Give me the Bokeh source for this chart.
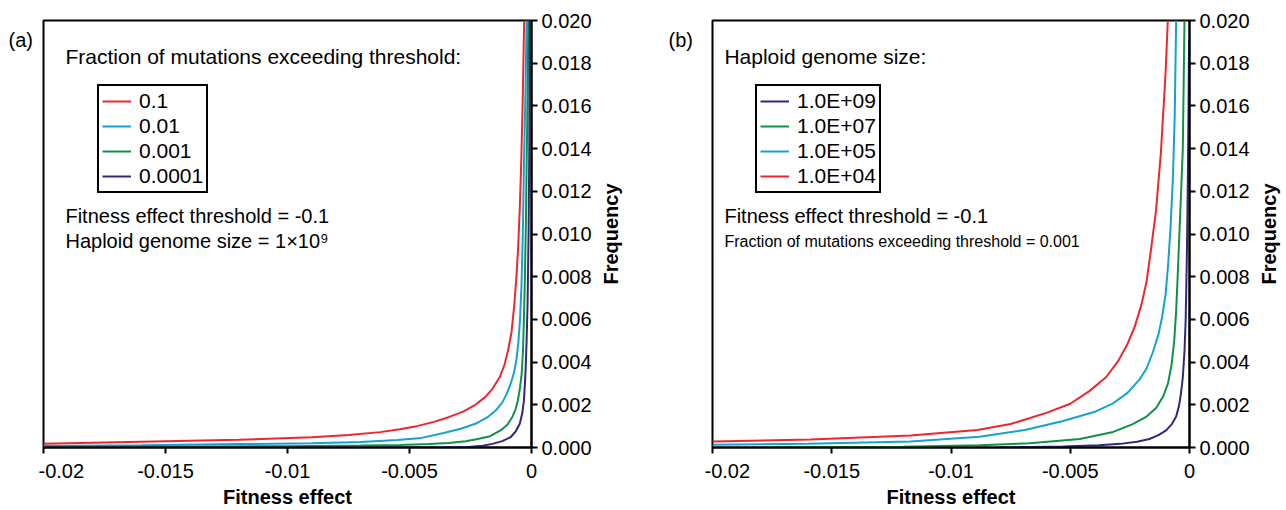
import math
from bokeh.plotting import figure
from bokeh.models import (Range1d, FixedTicker, CustomJSTickFormatter, Label,
                          Legend, LegendItem)
from bokeh.layouts import row
from bokeh.embed import file_html
from bokeh.resources import INLINE

FONT = "Liberation Sans"
H = 510
TOP = 20
BOTTOM = 63
FRAME_H = H - TOP - BOTTOM

# ---------------- data ----------------
x_ticks = [-0.02, -0.015, -0.01, -0.005, 0.0]
y_ticks = [0.000, 0.002, 0.004, 0.006, 0.008, 0.010, 0.012, 0.014, 0.016, 0.018, 0.020]

# Panel (a): fraction of mutations exceeding threshold
a_labels = ["0.1", "0.01", "0.001", "0.0001"]
a_x_1 = [-0.020, -0.016, -0.012, -0.0090, -0.0075, -0.0062, -0.0054, -0.0047, -0.0040,
         -0.0034, -0.0028, -0.0023, -0.0019, -0.0016, -0.0013, -0.0011, -0.00095,
         -0.00082, -0.00072, -0.00063, -0.00055, -0.00048, -0.00042, -0.00036, -0.00030]
a_y_1 = [0.00018, 0.00027, 0.00036, 0.00048, 0.00058, 0.00072, 0.00085, 0.00100, 0.00120,
         0.00142, 0.00168, 0.00200, 0.00236, 0.00275, 0.0033, 0.0039, 0.0046,
         0.0054, 0.0065, 0.0078, 0.0093, 0.0112, 0.0134, 0.0163, 0.0200]
a_x_2 = [-0.020, -0.016, -0.012, -0.0090, -0.0070, -0.0055, -0.0045, -0.0036, -0.0029,
         -0.0023, -0.0018, -0.00147, -0.0012, -0.00102, -0.00085, -0.00072, -0.00062,
         -0.00054, -0.00047, -0.00041, -0.00036, -0.00031, -0.00025, -0.00020]
a_y_2 = [0.00007, 0.00011, 0.00016, 0.00020, 0.00026, 0.00035, 0.00045, 0.00068, 0.00088,
         0.00111, 0.00142, 0.00173, 0.0021, 0.0025, 0.0030, 0.0035, 0.0041,
         0.0049, 0.0060, 0.0076, 0.0098, 0.0132, 0.0165, 0.0200]
a_x_3 = [-0.020, -0.015, -0.010, -0.0070, -0.0054, -0.0042, -0.0034, -0.0027, -0.0022,
         -0.0017, -0.00127, -0.0010, -0.00079, -0.00065, -0.00056, -0.00047, -0.00040,
         -0.00035, -0.00031, -0.00027, -0.00023, -0.00020, -0.00016, -0.00013]
a_y_3 = [0.00003, 0.00004, 0.00006, 0.00009, 0.00012, 0.00016, 0.00021, 0.00029, 0.0004,
         0.00053, 0.0008, 0.00105, 0.00142, 0.0018, 0.0022, 0.0028, 0.0035,
         0.0045, 0.0060, 0.0080, 0.0105, 0.0132, 0.0165, 0.0200]
a_x_4 = [-0.020, -0.005, -0.0035, -0.0026, -0.0020, -0.0016, -0.0012, -0.00086, -0.00065,
         -0.00048, -0.00038, -0.00031, -0.00025, -0.00020, -0.00016, -0.00012, -0.00009,
         -0.00007]
a_y_4 = [0.0, 0.0, 0.000005, 0.00002, 0.00008, 0.00017, 0.0003, 0.00048, 0.00075,
         0.00111, 0.0016, 0.0022, 0.0034, 0.0050, 0.0068, 0.0100, 0.0140,
         0.0200]

# Panel (b): haploid genome size
b_labels = ["1.0E+09", "1.0E+07", "1.0E+05", "1.0E+04"]
b_x_9 = [-0.008, -0.0053, -0.0038, -0.0029, -0.0022, -0.00168, -0.0013, -0.00098,
         -0.00075, -0.00056, -0.00044, -0.00035, -0.00028, -0.00021, -0.00016, -0.00011,
         -0.00007, -0.00004, -0.00002]
b_y_9 = [0.0, 0.00005, 0.0001, 0.00017, 0.00027, 0.0004, 0.00058, 0.0008,
         0.00108, 0.00145, 0.00195, 0.0026, 0.0033, 0.0045, 0.0060, 0.0090,
         0.0125, 0.0160, 0.0191]
b_x_7 = [-0.0176, -0.012, -0.0088, -0.0067, -0.0046, -0.0032, -0.0024, -0.0018,
         -0.0014, -0.0011, -0.0009, -0.00075, -0.00064, -0.00056, -0.0005, -0.00045,
         -0.00038, -0.00028, -0.00021]
b_y_7 = [0.0, 0.00004, 0.0001, 0.0002, 0.0004, 0.00073, 0.00108, 0.00145,
         0.00185, 0.0024, 0.0030, 0.0039, 0.0050, 0.0064, 0.0079, 0.0093,
         0.0112, 0.0140, 0.0200]
b_x_5 = [-0.020, -0.016, -0.0117, -0.0088, -0.0069, -0.0053, -0.0040, -0.0032,
         -0.0026, -0.0021, -0.0018, -0.00154, -0.0013, -0.00115, -0.0010, -0.0009,
         -0.0008, -0.0007, -0.00062, -0.00056]
b_y_5 = [0.00013, 0.00018, 0.00028, 0.0005, 0.00082, 0.00124, 0.00166, 0.00207,
         0.00256, 0.00318, 0.0037, 0.00445, 0.0053, 0.0061, 0.0072, 0.0085,
         0.0102, 0.0125, 0.0155, 0.0200]
b_x_4 = [-0.020, -0.0159, -0.0117, -0.0089, -0.0075, -0.0060, -0.0050, -0.0042,
         -0.0035, -0.0030, -0.0026, -0.0023, -0.0020, -0.0018, -0.0016, -0.0014,
         -0.0012, -0.0010, -0.00091]
b_y_4 = [0.00028, 0.00037, 0.00056, 0.00082, 0.00110, 0.00162, 0.00205, 0.00264,
         0.00329, 0.00403, 0.00485, 0.00565, 0.00675, 0.00778, 0.00938, 0.01114,
         0.0138, 0.0176, 0.0200]

RED = "#ED2630"
CYAN = "#14A3D0"
GREEN = "#0F9149"
NAVY = "#2D2A7C"


def blank(width):
    # pixel-unit helper figure, frame aligned with the panels' frames
    f = figure(width=width, height=H, x_range=Range1d(0, width), y_range=Range1d(0, FRAME_H),
               x_axis_location=None, y_axis_location=None, output_backend="svg",
               toolbar_location=None, min_border_left=0, min_border_right=0,
               min_border_top=TOP, min_border_bottom=BOTTOM)
    f.xgrid.visible = False
    f.ygrid.visible = False
    f.outline_line_color = None
    f.background_fill_color = "white"
    f.border_fill_color = "white"
    return f


def add_freq(f, x):
    f.add_layout(Label(x=x, y=FRAME_H / 2.0, text="Frequency", angle=math.pi / 2,
                       text_font=FONT, text_font_size="20px", text_font_style="bold",
                       text_color="black", text_align="center", text_baseline="middle"))


def add_tag(f, x, text):
    f.add_layout(Label(x=x, y=(TOP + FRAME_H) - 39, text=text, text_font=FONT,
                       text_font_size="20px", text_color="black", text_align="left",
                       text_baseline="alphabetic"))


def make_panel(width, border_left, border_right, series, legend_loc,
               title_text, line1, line2, line2_size, text_x):
    p = figure(width=width, height=H,
               x_range=Range1d(-0.02, 0.0), y_range=Range1d(0.0, 0.02),
               y_axis_location="right", output_backend="svg", toolbar_location=None,
               min_border_left=border_left, min_border_right=border_right,
               min_border_top=TOP, min_border_bottom=BOTTOM)
    p.xgrid.visible = False
    p.ygrid.visible = False
    p.background_fill_color = "white"
    p.border_fill_color = "white"
    p.outline_line_color = "black"
    p.outline_line_width = 2
    p.outline_line_alpha = 1.0

    p.xaxis.ticker = FixedTicker(ticks=x_ticks, minor_ticks=[])
    p.yaxis.ticker = FixedTicker(ticks=y_ticks, minor_ticks=[])
    p.xaxis.formatter = CustomJSTickFormatter(
        code="return tick == 0 ? '0' : (+tick.toPrecision(6)).toString();")
    p.yaxis.formatter = CustomJSTickFormatter(code="return tick.toFixed(3);")

    for ax in (p.xaxis, p.yaxis):
        ax.axis_line_color = "black"
        ax.axis_line_width = 2
        ax.major_tick_line_color = "black"
        ax.major_tick_line_width = 2
        ax.major_tick_in = 0
        ax.major_tick_out = 6
        ax.minor_tick_line_color = None
        ax.major_label_text_font = FONT
        ax.major_label_text_font_size = "20px"
        ax.major_label_text_color = "black"
        ax.axis_label_text_font = FONT
        ax.axis_label_text_font_size = "20px"
        ax.axis_label_text_font_style = "bold"
        ax.axis_label_text_color = "black"
    p.xaxis.axis_label = "Fitness effect"
    p.xaxis.major_label_standoff = 10
    p.xaxis.axis_label_standoff = 5
    p.yaxis.major_label_standoff = 4

    items = []
    for label, xs, ys, color in series:
        r = p.line(xs, ys, line_color=color, line_width=2)
        items.append(LegendItem(label=label, renderers=[r]))

    legend = Legend(items=items, location=legend_loc,
                    label_text_font=FONT, label_text_font_size="21px",
                    label_text_color="black", label_text_baseline="middle",
                    glyph_width=29, glyph_height=20, label_height=20,
                    label_standoff=8, spacing=1, padding=3, margin=0,
                    border_line_color="black", border_line_width=2,
                    border_line_alpha=1.0, background_fill_color="white",
                    background_fill_alpha=1.0)
    p.add_layout(legend)

    def lab(y, text, size):
        p.add_layout(Label(x=text_x, y=y, text=text, text_font=FONT,
                           text_font_size=size, text_color="black",
                           text_baseline="alphabetic", text_align="left"))

    lab(0.01831, title_text, "21px")
    lab(0.01082, line1, "20px")
    lab(0.00965, line2, line2_size)
    return p


tag_a = blank(38)
add_tag(tag_a, 8, "(a)")

pa = make_panel(558, 5, 65,
                [(a_labels[0], a_x_1, a_y_1, RED),
                 (a_labels[1], a_x_2, a_y_2, CYAN),
                 (a_labels[2], a_x_3, a_y_3, GREEN),
                 (a_labels[3], a_x_4, a_y_4, NAVY)],
                (54, 254),
                "Fraction of mutations exceeding threshold:",
                "Fitness effect threshold = -0.1",
                "Haploid genome size = 1\u00d710\u2079", "20px",
                -0.0191)

mid = blank(108)
add_freq(mid, 14)
add_tag(mid, 72, "(b)")

pb = make_panel(550, 8, 65,
                [(b_labels[0], b_x_9, b_y_9, NAVY),
                 (b_labels[1], b_x_7, b_y_7, GREEN),
                 (b_labels[2], b_x_5, b_y_5, CYAN),
                 (b_labels[3], b_x_4, b_y_4, RED)],
                (43, 254),
                "Haploid genome size:",
                "Fitness effect threshold = -0.1",
                "Fraction of mutations exceeding threshold = 0.001", "16px",
                -0.0195)

right = blank(30)
add_freq(right, 14)

layout = row(tag_a, pa, mid, pb, right)
open("out.html", "w").write(file_html(layout, INLINE))
